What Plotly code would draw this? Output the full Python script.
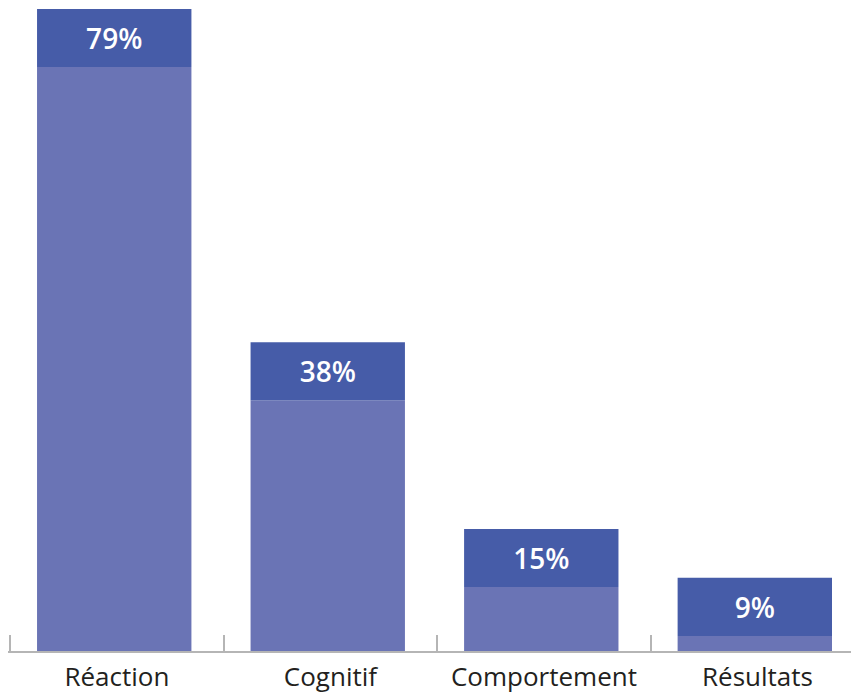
import plotly.graph_objects as go

categories = ["Réaction", "Cognitif", "Comportement", "Résultats"]
values = [79, 38, 15, 9]
labels = ["79%", "38%", "15%", "9%"]

CAP = 7.14  # height of the darker label cap, in % units
light = "#6A74B5"
dark = "#465CA8"
BW = 0.723
OFF = -0.374

fig = go.Figure()
fig.add_trace(go.Bar(
    x=categories, y=[v - CAP for v in values],
    marker=dict(color=light, line=dict(width=0)),
    width=BW, offset=OFF, hoverinfo="skip", showlegend=False,
))
fig.add_trace(go.Bar(
    x=categories, y=[CAP] * len(values), base=[v - CAP for v in values],
    marker=dict(color=dark, line=dict(width=0)),
    width=BW, offset=OFF, text=labels, textposition="inside", insidetextanchor="middle",
    textangle=0,
    textfont=dict(family="Open Sans", size=28, color="white", weight=600),
    hoverinfo="skip", showlegend=False,
))

fig.update_layout(
    width=851, height=695,
    margin=dict(l=8, r=0, t=0, b=44),
    barmode="overlay",
    plot_bgcolor="white", paper_bgcolor="white",
    uniformtext=dict(minsize=28, mode="show"),
    xaxis=dict(
        type="category", range=[-0.51, 3.438], automargin=False,
        showline=True, linecolor="#B5B5B5", linewidth=2,
        ticks="inside", tickson="boundaries", ticklen=16, tickwidth=2, tickcolor="#B5B5B5",
        tickfont=dict(family="Open Sans", size=26, color="#231F20"),
        ticklabelstandoff=2,
        showgrid=False, zeroline=False,
    ),
    yaxis=dict(range=[0, 80.1], visible=False, showgrid=False, zeroline=False, automargin=False),
)

fig.write_html("out.html")
